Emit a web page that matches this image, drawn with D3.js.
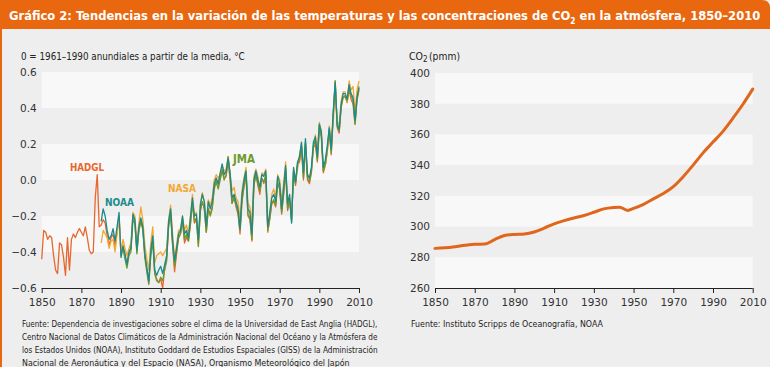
<!DOCTYPE html>
<html>
<head>
<meta charset="utf-8">
<script src="https://cdn.jsdelivr.net/npm/d3@7.9.0/dist/d3.min.js"></script>
<style>
  body { margin: 0; background: #fff; }
  svg { display: block; }
</style>
</head>
<body>
<svg id="chart" width="773" height="367"></svg>
<script>
// temperature anomalies (°C, 0 = 1961-1990 mean)
const hadglStart = 1850;
const hadgl = [
  -0.44,-0.28,-0.29,-0.33,-0.31,-0.32,-0.42,-0.50,-0.52,-0.35,
  -0.36,-0.43,-0.53,-0.32,-0.50,-0.33,-0.30,-0.32,-0.29,-0.27,
  -0.29,-0.31,-0.26,-0.32,-0.39,-0.41,-0.40,-0.10,0.03,-0.26,
  -0.25,-0.22,-0.24,-0.31,-0.36,-0.32,-0.30,-0.37,-0.29,-0.20,
  -0.42,-0.36,-0.43,-0.46,-0.40,-0.37,-0.21,-0.24,-0.40,-0.28,
  -0.22,-0.27,-0.42,-0.49,-0.57,-0.41,-0.33,-0.52,-0.55,-0.57,
  -0.55,-0.60,-0.49,-0.44,-0.26,-0.19,-0.36,-0.51,-0.41,-0.32,
  -0.30,-0.23,-0.35,-0.32,-0.34,-0.25,-0.12,-0.24,-0.22,-0.36,
  -0.17,-0.12,-0.16,-0.29,-0.16,-0.19,-0.15,-0.04,0.01,-0.03,
  0.02,0.06,0.01,0.02,0.10,0.00,-0.13,-0.09,-0.15,-0.19,
  -0.30,-0.12,-0.04,0.03,-0.20,-0.22,-0.34,-0.03,0.03,-0.03,
  -0.08,0.01,-0.02,0.02,-0.29,-0.22,-0.13,-0.12,-0.15,-0.02,
  -0.05,-0.19,-0.08,0.05,-0.17,-0.11,-0.22,0.04,-0.03,0.08,
  0.10,0.17,0.00,0.20,0.00,-0.02,0.04,0.18,0.20,0.10,
  0.28,0.24,0.04,0.08,0.16,0.27,0.14,0.35,0.55,0.29,
  0.26,0.40,0.46,0.47,0.43,0.50,0.45,0.42,0.31,0.44,0.50
];
const noaaStart = 1880;
const noaa = [
  -0.23,-0.16,-0.20,-0.28,-0.33,-0.31,-0.27,-0.34,-0.26,-0.18,
  -0.43,-0.37,-0.41,-0.47,-0.40,-0.38,-0.19,-0.22,-0.39,-0.26,
  -0.21,-0.26,-0.41,-0.49,-0.56,-0.39,-0.31,-0.50,-0.53,-0.50,
  -0.48,-0.52,-0.47,-0.42,-0.23,-0.16,-0.33,-0.45,-0.38,-0.30,
  -0.28,-0.20,-0.30,-0.28,-0.32,-0.21,-0.10,-0.20,-0.19,-0.33,
  -0.14,-0.08,-0.12,-0.26,-0.12,-0.16,-0.12,-0.02,0.01,-0.02,
  0.04,0.09,0.03,0.05,0.12,0.04,-0.10,-0.08,-0.12,-0.16,
  -0.27,-0.08,0.00,0.05,-0.16,-0.18,-0.30,0.00,0.05,0.00,
  -0.04,0.03,0.02,0.05,-0.26,-0.18,-0.10,-0.08,-0.12,0.02,
  -0.02,-0.16,-0.04,0.08,-0.13,-0.08,-0.24,0.07,-0.01,0.10,
  0.13,0.21,0.04,0.23,0.03,0.01,0.07,0.21,0.24,0.13,
  0.31,0.27,0.07,0.11,0.19,0.29,0.17,0.38,0.54,0.31,
  0.28,0.42,0.48,0.48,0.45,0.53,0.48,0.46,0.33,0.46,0.51
];
const nasaStart = 1880;
const nasa = [
  -0.35,-0.28,-0.30,-0.32,-0.38,-0.34,-0.33,-0.40,-0.30,-0.22,
  -0.40,-0.33,-0.38,-0.42,-0.38,-0.35,-0.18,-0.20,-0.36,-0.24,
  -0.15,-0.22,-0.36,-0.44,-0.50,-0.35,-0.26,-0.46,-0.42,-0.41,
  -0.40,-0.42,-0.40,-0.38,-0.22,-0.14,-0.30,-0.44,-0.36,-0.28,
  -0.27,-0.20,-0.28,-0.25,-0.30,-0.20,-0.08,-0.20,-0.18,-0.34,
  -0.13,-0.07,-0.12,-0.25,-0.11,-0.14,-0.10,0.00,0.03,0.01,
  0.03,0.08,0.05,0.06,0.13,0.03,-0.06,-0.04,-0.10,-0.12,
  -0.22,-0.06,0.01,0.07,-0.13,-0.15,-0.24,0.02,0.06,0.02,
  -0.05,0.04,0.03,0.06,-0.28,-0.20,-0.08,-0.05,-0.10,0.03,
  0.00,-0.12,-0.02,0.10,-0.14,-0.12,-0.20,0.06,0.00,0.06,
  0.14,0.20,0.02,0.20,0.04,0.00,0.06,0.18,0.25,0.16,
  0.32,0.27,0.06,0.08,0.15,0.30,0.22,0.32,0.52,0.33,
  0.30,0.44,0.49,0.49,0.43,0.55,0.50,0.52,0.38,0.50,0.55
];
const jmaStart = 1891;
const jma = [
  -0.38,-0.44,-0.49,-0.42,-0.40,-0.22,-0.24,-0.41,-0.28,
  -0.23,-0.28,-0.43,-0.51,-0.58,-0.42,-0.34,-0.52,-0.56,-0.57,
  -0.54,-0.56,-0.50,-0.45,-0.25,-0.18,-0.36,-0.48,-0.40,-0.32,
  -0.30,-0.22,-0.33,-0.30,-0.34,-0.24,-0.12,-0.23,-0.21,-0.37,
  -0.17,-0.12,-0.16,-0.29,-0.16,-0.20,-0.16,-0.05,-0.01,-0.05,
  0.00,0.05,0.00,0.03,0.13,0.02,-0.13,-0.10,-0.14,-0.18,
  -0.28,-0.11,-0.03,0.04,-0.19,-0.21,-0.33,-0.03,0.03,-0.02,
  -0.06,0.01,-0.01,0.03,-0.28,-0.21,-0.13,-0.11,-0.14,-0.01,
  -0.05,-0.18,-0.07,0.06,-0.16,-0.10,-0.23,0.05,-0.02,0.09,
  0.11,0.19,0.01,0.21,0.01,-0.01,0.05,0.19,0.22,0.11,
  0.30,0.25,0.05,0.09,0.17,0.28,0.15,0.36,0.55,0.30,
  0.27,0.41,0.46,0.46,0.44,0.51,0.47,0.44,0.31,0.45,0.52
];

// CO2 concentration (ppm)
const co2Years = [1850,1855,1860,1865,1870,1875,1880,1885,1890,1895,1900,1905,1910,1915,1920,1925,1930,1935,1940,1943,1947,1950,1955,1960,1965,1970,1975,1980,1985,1990,1995,2000,2005,2010];
const co2Values = [285.8,286.2,286.9,287.8,288.5,288.6,291.5,294.2,294.9,295.2,296.5,299.0,301.8,303.9,305.6,307.2,309.3,311.5,312.4,312.6,310.5,311.8,314.5,318.0,321.5,326.0,332.5,340.0,348.0,355.0,362.0,370.5,379.5,389.5];

const xTicks = [1850,1870,1890,1910,1930,1950,1970,1990,2010];
const tempTicks = [-0.6,-0.4,-0.2,0.0,0.2,0.4,0.6];
const co2Ticks = [260,280,300,320,340,360,380,400];

const svg = d3.select('#chart');
const orange = '#e8670f';
const narrow = "'Liberation Sans Narrow','DejaVu Sans Condensed',sans-serif";
const tickFont = "'DejaVu Sans',sans-serif";

// text helper: shrink the font until the text fits in `fit` px
function label(x, y, str, opts) {
  const size = opts.size || 11;
  const t = svg.append('text')
    .attr('x', x).attr('y', y)
    .attr('font-family', opts.family || narrow)
    .attr('font-size', size)
    .attr('font-weight', opts.weight || 'normal')
    .attr('fill', opts.fill || '#222')
    .text(str);
  if (opts.fit) {
    const w = t.node().getComputedTextLength();
    if (w > opts.fit) t.attr('font-size', size * opts.fit / w);
  }
  return t;
}

// panel background + frame
svg.append('rect').attr('x', 0).attr('y', 0).attr('width', 770).attr('height', 367).attr('fill', '#eeeeee');
svg.append('path')
  .attr('d', 'M0,0 H762 Q770,0 770,8 V29 H0 Z')
  .attr('fill', orange);
svg.append('rect').attr('x', 0).attr('y', 0).attr('width', 2).attr('height', 367).attr('fill', orange);

// title: three pieces (subscript in the middle) scaled together to fit the bar
const titleParts = [
  { s: 'Gráfico 2: Tendencias en la variación de las temperaturas y las concentraciones de CO', k: 1, dy: 0 },
  { s: '2', k: 0.65, dy: 4 },
  { s: '\u00a0en la atmósfera, 1850–2010', k: 1, dy: 0 }
];
const titleBase = 15;
const titleNodes = titleParts.map(p => label(0, 20 + p.dy, p.s, { size: titleBase * p.k, weight: 'bold', fill: '#fff' }));
const titleW = d3.sum(titleNodes, n => n.node().getComputedTextLength());
const titleScale = Math.min(1, 752 / titleW);
let tx = 9;
titleNodes.forEach((n, i) => {
  n.attr('font-size', titleBase * titleParts[i].k * titleScale).attr('x', tx);
  tx += n.node().getComputedTextLength();
});

function drawPanel(x0, x1, y, ticks, fmt) {
  const g = svg.append('g');
  // alternating light bands, starting from the top
  for (let i = ticks.length - 1; i > 0; i -= 2) {
    g.append('rect')
      .attr('x', x0)
      .attr('width', x1 - x0)
      .attr('y', y(ticks[i]))
      .attr('height', y(ticks[i - 1]) - y(ticks[i]))
      .attr('fill', '#f8f8f8');
  }
  const yAxis = d3.axisLeft(y).tickValues(ticks).tickSize(0).tickPadding(5).tickFormat(fmt);
  const ga = g.append('g').attr('transform', `translate(${x0},0)`).call(yAxis);
  ga.select('.domain').remove();
  ga.selectAll('text').attr('font-family', tickFont).attr('font-size', 10.5).attr('fill', '#333');
}

function drawXAxis(x, yPos) {
  const ax = d3.axisBottom(x).tickValues(xTicks).tickSize(5).tickPadding(6).tickFormat(d3.format('d'));
  const g = svg.append('g').attr('transform', `translate(0,${yPos})`).call(ax);
  g.select('.domain').attr('stroke', '#222').attr('d', `M${x.range()[0]},0.5H${x.range()[1]}`);
  g.selectAll('line').attr('stroke', '#222');
  g.selectAll('text').attr('font-family', tickFont).attr('font-size', 10.5).attr('fill', '#333');
}

// ---- left: temperatures ----
const xT = d3.scaleLinear().domain([1850, 2010]).range([41.7, 359]);
const yT = d3.scaleLinear().domain([-0.6, 0.6]).range([288, 72]);
drawPanel(41.7, 359, yT, tempTicks, d3.format('.1f'));

const tempSeries = [
  { name: 'HADGL', start: hadglStart, values: hadgl, color: '#e8672e', lx: 70, ly: 171, w: 34 },
  { name: 'NASA', start: nasaStart, values: nasa, color: '#f2a830', lx: 168, ly: 192, w: 28 },
  { name: 'JMA', start: jmaStart, values: jma, color: '#6e9a2c', lx: 233, ly: 163, w: 22 },
  { name: 'NOAA', start: noaaStart, values: noaa, color: '#1a8b8b', lx: 105, ly: 206, w: 29 }
];
const lineT = d3.line().x(d => xT(d[0])).y(d => yT(d[1]));
tempSeries.forEach(s => {
  const pts = s.values.map((v, i) => [s.start + i, v]);
  svg.append('path')
    .attr('d', lineT(pts))
    .attr('fill', 'none')
    .attr('stroke', s.color)
    .attr('stroke-width', 1.3)
    .attr('stroke-linejoin', 'round');
});
tempSeries.forEach(s => label(s.lx, s.ly, s.name, { size: 12, weight: 'bold', fill: s.color, fit: s.w }));
drawXAxis(xT, 288);

label(21, 60, '0 = 1961–1990 anundiales a partir de la media, °C', { size: 11, fit: 224 });

const srcLines = [
  'Fuente:  Dependencia de investigaciones sobre el clima de la Universidad de East Anglia (HADGL),',
  'Centro Nacional de Datos Climáticos de la Administración Nacional del Océano y la Atmósfera de',
  'los Estados Unidos (NOAA), Instituto Goddard de Estudios Espaciales (GISS) de la Administración',
  'Nacional de Aeronáutica y del Espacio (NASA), Organismo Meteorológico del Japón'
];
srcLines.forEach((t, i) => label(22, 327 + i * 13, t, { size: 8.8, fit: 356 }));

// ---- right: CO2 ----
const xC = d3.scaleLinear().domain([1850, 2010]).range([435, 752.7]);
const yC = d3.scaleLinear().domain([260, 400]).range([288, 73]);
drawPanel(435, 752.7, yC, co2Ticks, d3.format('d'));

const lineC = d3.line().x((d, i) => xC(co2Years[i])).y(d => yC(d)).curve(d3.curveMonotoneX);
svg.append('path')
  .attr('d', lineC(co2Values))
  .attr('fill', 'none')
  .attr('stroke', '#e0661c')
  .attr('stroke-width', 3)
  .attr('stroke-linecap', 'round');
drawXAxis(xC, 288);

label(409, 60, 'CO', { size: 11.5, fit: 14 });
label(423, 62, '2', { size: 8 });
label(429, 60, '(pmm)', { size: 11.5, fit: 31 });

label(411, 327, 'Fuente: Instituto Scripps de Oceanografía, NOAA', { size: 8.8, fit: 192 });
</script>
</body>
</html>
